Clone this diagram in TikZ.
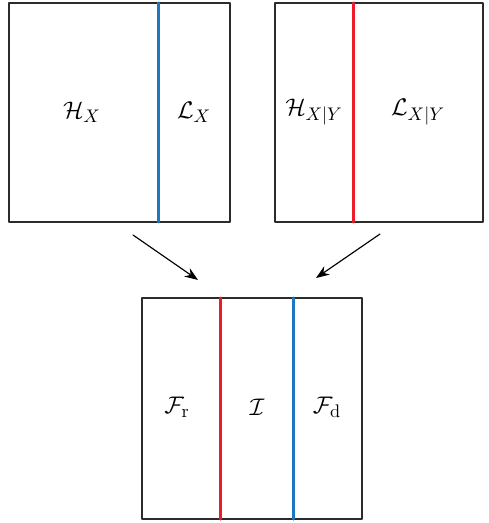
\documentclass[tikz,border=0pt]{standalone}
\usepackage{amsmath}
\usetikzlibrary{arrows.meta}
\begin{document}
\begin{tikzpicture}[x=0.6pt, y=-0.6pt, line cap=round, line join=round]
  \definecolor{Ink}{HTML}{2B2B2B}
  \definecolor{CutBlue}{HTML}{1F77C0}
  \definecolor{CutRed}{HTML}{EE1C2A}

  \tikzset{
    box/.style={draw=Ink, line width=1pt},
    cut/.style={line width=1.8pt},
    flow/.style={-{Stealth[length=8pt, width=6pt]}, line width=0.7pt, draw=black},
    lbl/.style={font=\fontsize{15}{18}\selectfont}
  }

  \useasboundingbox (0,0) rectangle (488,523);

  % Top left: split of X
  \draw[box] (9,3) rectangle (230,222);
  \draw[cut, CutBlue] (158,3) -- (158,222);
  \node[lbl] (hx) at (82,112) {$\mathcal{H}_X$};
  \node[lbl] (lx) at (194,112) {$\mathcal{L}_X$};

  % Top right: split of X given Y
  \draw[box] (275,3) rectangle (483,222);
  \draw[cut, CutRed] (353,3) -- (353,222);
  \node[lbl] (hxy) at (314,112) {$\mathcal{H}_{X|Y}$};
  \node[lbl] (lxy) at (418,112) {$\mathcal{L}_{X|Y}$};

  % Bottom: combined split
  \draw[box] (142,298) rectangle (362,519);
  \draw[cut, CutRed] (220,298) -- (220,519);
  \draw[cut, CutBlue] (293,298) -- (293,519);
  \node[lbl] (fr) at (177,407) {$\mathcal{F}_{\mathrm{r}}$};
  \node[lbl] (mi) at (257,407) {$\mathcal{I}$};
  \node[lbl] (fd) at (327,407) {$\mathcal{F}_{\mathrm{d}}$};

  % Arrows
  \coordinate (leftout) at (133,235);
  \coordinate (leftin) at (198,280);
  \coordinate (rightout) at (380,234);
  \coordinate (rightin) at (316,278);
  \draw[flow] (leftout) -- (leftin);
  \draw[flow] (rightout) -- (rightin);
\end{tikzpicture}
\end{document}
